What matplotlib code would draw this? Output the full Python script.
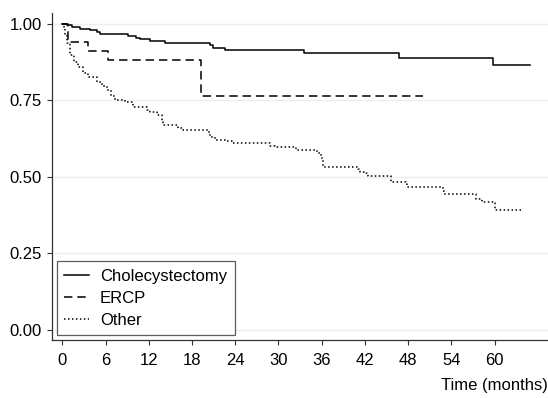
import matplotlib
matplotlib.use("Agg")
import matplotlib.pyplot as plt

# Kaplan-Meier estimates
chole_t = [0, 0.6, 1.3, 2.5, 3.8, 4.8, 5.2, 9.1, 10.3, 10.8, 12.2, 14.2, 20.5, 20.9,
           22.6, 33.6, 46.7, 59.7, 64.9]
chole_s = [1.0, 0.995, 0.989, 0.982, 0.978, 0.971, 0.965, 0.960, 0.953, 0.948, 0.943,
           0.937, 0.929, 0.920, 0.913, 0.904, 0.888, 0.864, 0.864]

ercp_t = [0, 0.8, 3.6, 6.4, 19.2, 50.1]
ercp_s = [1.0, 0.941, 0.912, 0.881, 0.762, 0.762]

other_t = [0, 0.2, 0.37, 0.6, 1.07, 1.6, 2.2, 2.9, 3.6, 4.8, 5.5, 6.2, 6.8, 7.3, 8.7,
           9.85, 11.7, 12.2, 13.1, 13.8, 14.0, 16.1, 16.8, 20.3, 20.5, 21.2, 22.8, 23.5,
           28.8, 29.5, 32.5, 35.3, 35.8, 36.0, 36.2, 41.1, 41.3, 42.2, 42.4, 45.6, 47.7,
           47.9, 52.8, 52.9, 57.4, 58.2, 59.9, 60.0, 64.0]
other_s = [1.0, 0.985, 0.967, 0.935, 0.897, 0.875, 0.858, 0.840, 0.826, 0.810, 0.797,
           0.783, 0.765, 0.750, 0.744, 0.728, 0.717, 0.712, 0.701, 0.679, 0.668, 0.658,
           0.652, 0.641, 0.630, 0.620, 0.617, 0.609, 0.600, 0.596, 0.589, 0.576, 0.571,
           0.556, 0.533, 0.527, 0.516, 0.513, 0.502, 0.484, 0.478, 0.466, 0.454, 0.443,
           0.426, 0.418, 0.413, 0.391, 0.391]

labels = ["Cholecystectomy", "ERCP", "Other"]
x_ticks = list(range(0, 61, 6))
y_ticks = [0.0, 0.25, 0.5, 0.75, 1.0]

plt.rcParams['font.family'] = ['Liberation Sans', 'DejaVu Sans']
plt.rcParams['font.size'] = 12

fig = plt.figure(figsize=(5.48, 3.98), dpi=100)
ax = fig.add_axes([0.0943, 0.1457, 0.9057, 0.8213])

for y in y_ticks:
    ax.axhline(y, color='#e8f0f3', lw=1.0, zorder=0)

ax.plot(chole_t, chole_s, drawstyle='steps-post', color='black', lw=1.1,
        label=labels[0])
ax.plot(ercp_t, ercp_s, drawstyle='steps-post', color='black', lw=1.1,
        dashes=(5.5, 3.2), label=labels[1])
ax.plot(other_t, other_s, drawstyle='steps-post', color='black', lw=1.1,
        dashes=(1.0, 1.6), label=labels[2])

ax.set_xlim(-1.47, 67.4)
ax.set_ylim(-0.0326, 1.034)
ax.set_xticks(x_ticks)
ax.set_yticks(y_ticks)
ax.set_yticklabels([f"{v:.2f}" for v in y_ticks])
ax.tick_params(direction='out', length=3.6, width=0.8, color='#333333')
ax.tick_params(axis='x', pad=6)
ax.tick_params(axis='y', pad=3.5)

for side in ['top', 'right']:
    ax.spines[side].set_visible(False)
for side in ['left', 'bottom']:
    ax.spines[side].set_linewidth(0.9)
    ax.spines[side].set_color('#333333')

ax.set_xlabel("Time (months)", loc='right', labelpad=7)

leg = ax.legend(loc='lower left', frameon=True, fancybox=False, edgecolor='#333333',
                borderaxespad=0.3, handlelength=1.5, handletextpad=0.65,
                labelspacing=0.42, borderpad=0.45)
leg.get_frame().set_linewidth(0.9)

fig.savefig("out.png", dpi=100)
